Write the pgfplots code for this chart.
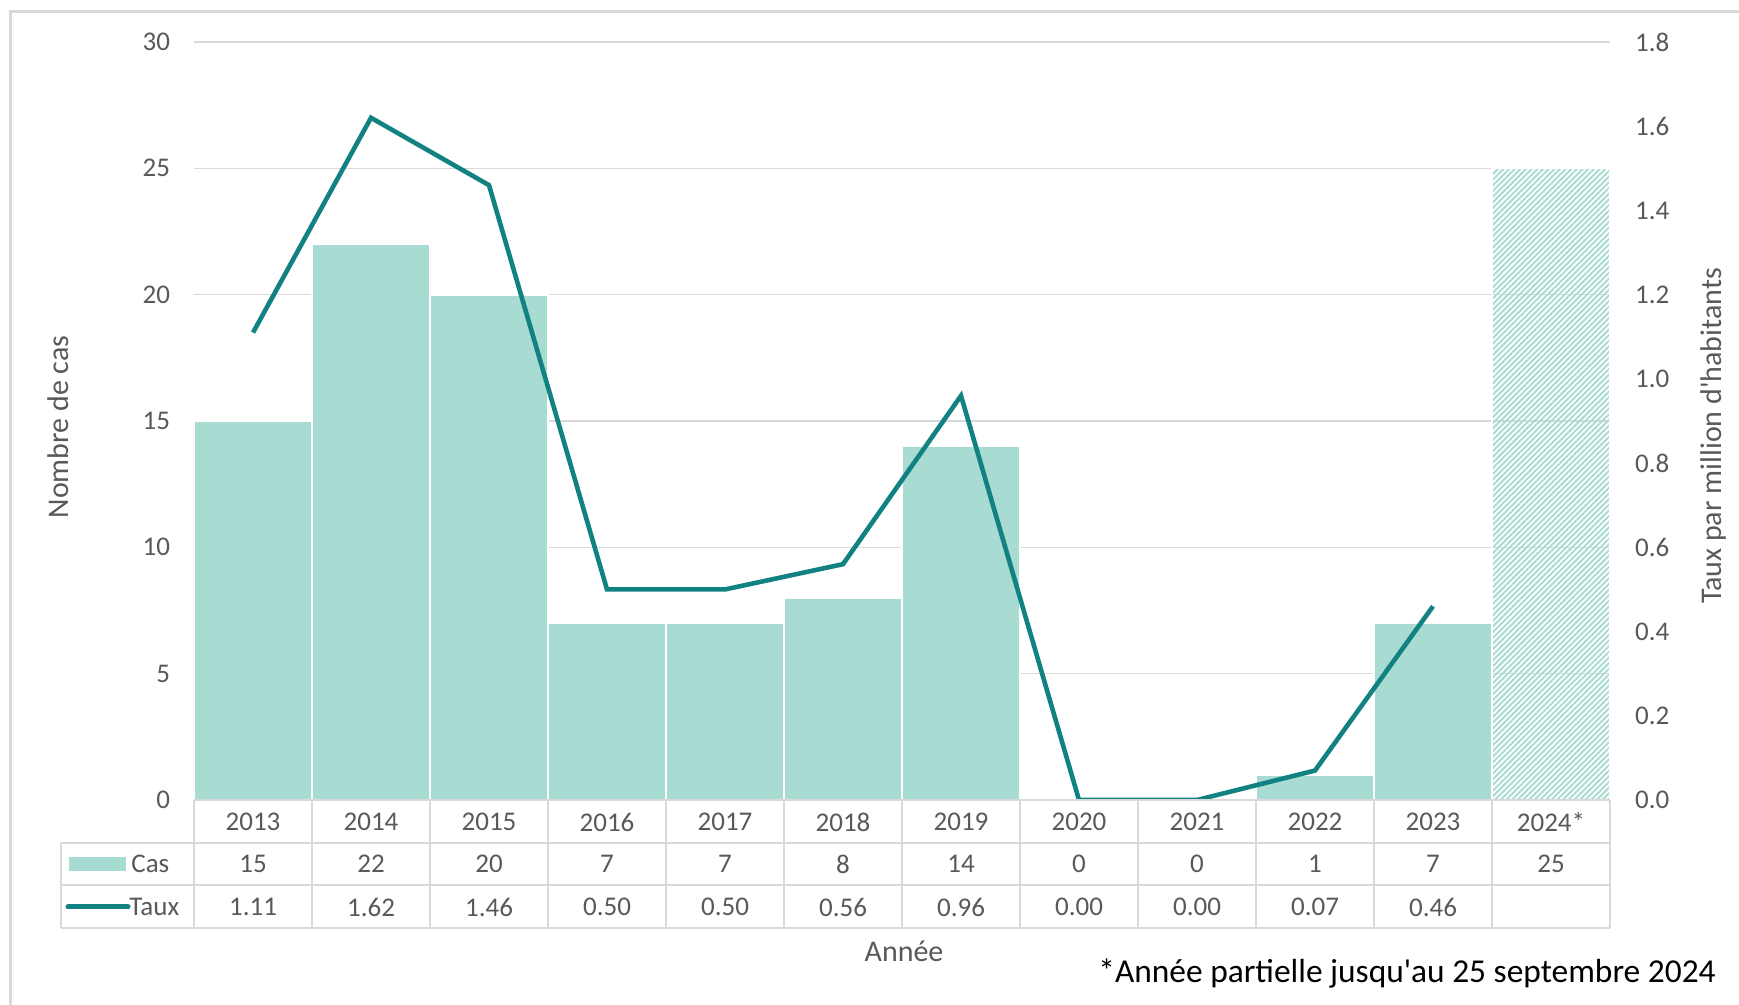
\documentclass[border=0pt]{standalone}
\usepackage{pgfplots}
\pgfplotsset{compat=1.18}
\usepackage{fontspec}
\setmainfont{Carlito}[Ligatures=TeXOff]
\usetikzlibrary{patterns.meta}
\definecolor{barcol}{HTML}{A8DBD2}
\definecolor{linecol}{HTML}{118281}
\definecolor{tgray}{HTML}{595959}
\definecolor{ggray}{HTML}{D9D9D9}
\begin{document}
\begin{tikzpicture}
\path[use as bounding box] (0pt,0pt) rectangle (869.5pt,502.5pt);
\draw[color=ggray, line width=1.5pt] (5pt,0pt) -- (5pt,496.5pt) -- (869.5pt,496.5pt);
\begin{axis}[
  at={(97pt,102.5pt)}, anchor=south west,
  scale only axis, width=708pt, height=379pt,
  xmin=-0.5, xmax=11.5, ymin=0, ymax=30,
  xtick={0,...,11},
  xticklabels={2013,2014,2015,2016,2017,2018,2019,2020,2021,2022,2023,2024*},
  xticklabel style={anchor=center, yshift=-11pt, font=\fontsize{13.5}{15}\selectfont, text=tgray},
  ytick={0,5,...,30},
  yticklabel style={xshift=-8.5pt, font=\fontsize{13.5}{15}\selectfont, text=tgray},
  /pgf/number format/assume math mode=true,
  ymajorgrids, grid style={color=ggray, line width=0.8pt},
  axis line style={draw=none},
  major tick length=0pt,
]
\addplot[ybar, bar width=1, bar shift=0pt, fill=barcol, draw=white, line width=1pt]
  coordinates {(0,15) (1,22) (2,20) (3,7) (4,7) (5,8) (6,14) (7,0) (8,0) (9,1) (10,7)};
\addplot[ybar, bar width=1, bar shift=0pt, draw=white, line width=1pt,
  pattern={Lines[angle=45,distance=2pt,line width=1pt]}, pattern color=barcol]
  coordinates {(11,25)};
\end{axis}
\begin{axis}[
  at={(97pt,102.5pt)}, anchor=south west,
  scale only axis, width=708pt, height=379pt,
  xmin=-0.5, xmax=11.5, ymin=0, ymax=1.8,
  hide x axis,
  axis y line*=right,
  axis line style={draw=none},
  major tick length=0pt,
  ytick={0,0.2,...,1.8},
  yticklabel style={xshift=9pt, font=\fontsize{13.5}{15}\selectfont, text=tgray,
    /pgf/number format/.cd, fixed, fixed zerofill, precision=1, assume math mode=true},
]
\addplot[color=linecol, line width=2.3pt, mark=none]
  coordinates {(0,1.11) (1,1.62) (2,1.46) (3,0.50) (4,0.50) (5,0.56) (6,0.96) (7,0.00) (8,0.00) (9,0.07) (10,0.46)};
\end{axis}
\begin{scope}[x=0.5pt,y=0.5pt]
% data table grid
\begin{scope}[color=ggray, line width=1pt]
\draw (194,205) -- (1610,205);
\foreach \yy in {162,120,77} \draw (61,\yy) -- (1610,\yy);
\foreach \k in {0,...,12} \draw ({194+\k*118},205) -- ({194+\k*118},77);
\draw (61,162) -- (61,77);
\end{scope}
% table values
\begin{scope}[font=\fontsize{13.5}{15}\selectfont, text=tgray]
\foreach \v [count=\i from 0] in {15,22,20,7,7,8,14,0,0,1,7,25}
  \node at ({194+(\i+0.5)*118},141) {\v};
\foreach \v [count=\i from 0] in {1.11,1.62,1.46,0.50,0.50,0.56,0.96,0.00,0.00,0.07,0.46}
  \node at ({194+(\i+0.5)*118},98) {\v};
\fill[barcol] (69,134) rectangle (126,148);
\draw[linecol, line width=2.5pt, line cap=round] (68,98) -- (128,98);
\node[anchor=west, inner sep=0pt] at (131,141) {Cas};
\node[anchor=west, inner sep=0pt] at (129,98) {Taux};
\end{scope}
% axis titles
\begin{scope}[font=\fontsize{15}{17}\selectfont, text=tgray]
\node[rotate=90] at (58,578) {Nombre de cas};
\node[rotate=90] at (1713,569) {Taux par million d'habitants};
\node at (904,54) {Année};
\end{scope}
\node[anchor=east, inner sep=0pt, font=\fontsize{16.7}{19}\selectfont, text=black] at (1716,31) {*Année partielle jusqu'au 25 septembre 2024};
\end{scope}
\end{tikzpicture}
\end{document}
